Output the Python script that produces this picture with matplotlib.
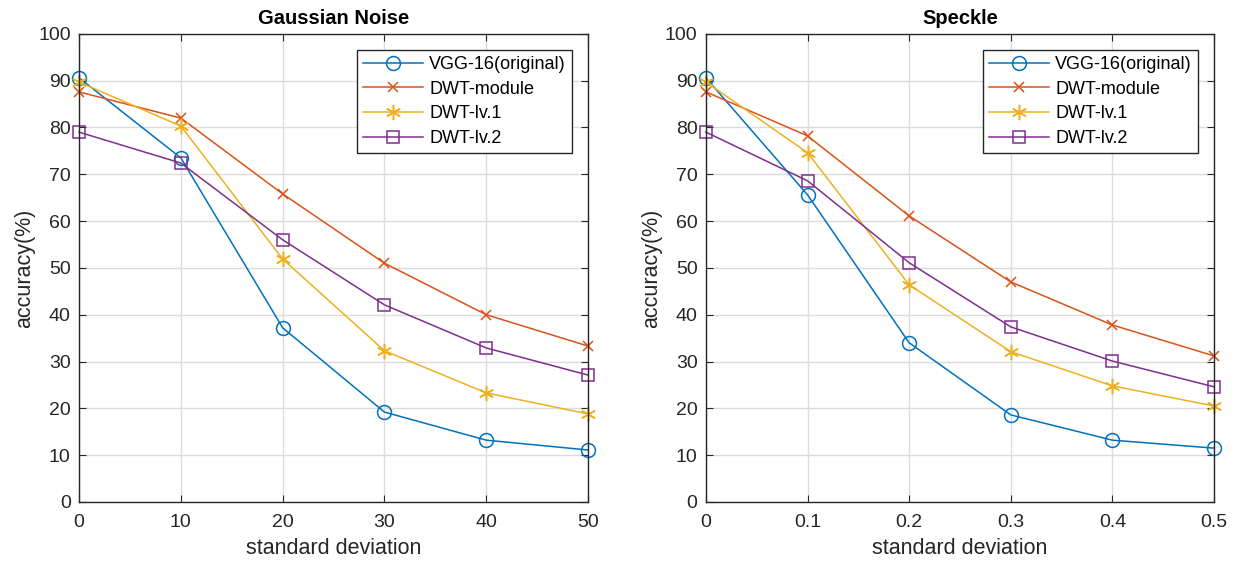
import matplotlib
matplotlib.use("Agg")
import matplotlib.pyplot as plt

plt.rcParams['font.family'] = ['Liberation Sans', 'DejaVu Sans']

# Gaussian noise
gauss_x = [0, 10, 20, 30, 40, 50]
gauss_vgg = [90.6, 73.5, 37.2, 19.2, 13.2, 11.1]
gauss_module = [87.6, 82.0, 65.8, 51.0, 40.0, 33.3]
gauss_lv1 = [89.7, 80.3, 51.9, 32.3, 23.3, 18.8]
gauss_lv2 = [79.0, 72.4, 56.0, 42.1, 32.9, 27.1]

# Speckle
speck_x = [0, 0.1, 0.2, 0.3, 0.4, 0.5]
speck_vgg = [90.6, 65.6, 34.0, 18.6, 13.2, 11.5]
speck_module = [87.6, 78.2, 61.1, 47.0, 37.8, 31.2]
speck_lv1 = [89.7, 74.6, 46.4, 32.1, 24.8, 20.5]
speck_lv2 = [79.0, 68.6, 51.1, 37.4, 30.1, 24.6]

labels = ['VGG-16(original)', 'DWT-module', 'DWT-lv.1', 'DWT-lv.2']
colors = ['#0072BD', '#D95319', '#EDB120', '#7E2F8E']
markers = ['o', 'x', (6, 2, 0), 's']  # asterisk like matlab '*'
msizes = [10, 7, 11, 8]

fig = plt.figure(figsize=(12.37, 5.64), dpi=100)
ax1 = fig.add_axes([0.0639, 0.110, 0.4115, 0.830])
ax2 = fig.add_axes([0.5707, 0.110, 0.4107, 0.830])

panels = [
    (ax1, gauss_x, [gauss_vgg, gauss_module, gauss_lv1, gauss_lv2], 'Gaussian Noise', [0, 10, 20, 30, 40, 50], ['0', '10', '20', '30', '40', '50']),
    (ax2, speck_x, [speck_vgg, speck_module, speck_lv1, speck_lv2], 'Speckle', [0, 0.1, 0.2, 0.3, 0.4, 0.5], ['0', '0.1', '0.2', '0.3', '0.4', '0.5']),
]

for ax, xs, series, title, xt, xtl in panels:
    for ys, lab, c, m, ms in zip(series, labels, colors, markers, msizes):
        ax.plot(xs, ys, color=c, marker=m, markersize=ms, markerfacecolor='none',
                markeredgecolor=c, markeredgewidth=1.1, linewidth=1.1, label=lab,
                clip_on=False)
    ax.set_xlim(xt[0], xt[-1])
    ax.set_ylim(0, 100)
    ax.set_xticks(xt)
    ax.set_xticklabels(xtl)
    ax.set_yticks(range(0, 101, 10))
    ax.grid(True, color='#dcdcdc', linewidth=1)
    ax.set_axisbelow(True)
    ax.tick_params(direction='in', length=5, labelsize=14, colors='#262626', top=True, right=True, pad=6)
    ax.tick_params(axis='x', pad=9)
    for s in ax.spines.values():
        s.set_color('#262626')
        s.set_linewidth(1)
    ax.set_xlabel('standard deviation', fontsize=15.5, color='#262626', labelpad=5)
    ax.set_ylabel('accuracy(%)', fontsize=15.5, color='#262626', labelpad=2)
    ax.set_title(title, fontsize=14.5, fontweight='bold', pad=7)
    leg = ax.legend(loc='upper right', bbox_to_anchor=(0.969, 0.966), fontsize=13,
                    fancybox=False, edgecolor='#262626', framealpha=1,
                    handlelength=3.3, borderpad=0.35, labelspacing=0.42, handletextpad=0.35,
                    borderaxespad=0)
    leg.get_frame().set_linewidth(1)

fig.savefig('out.png', dpi=100)
